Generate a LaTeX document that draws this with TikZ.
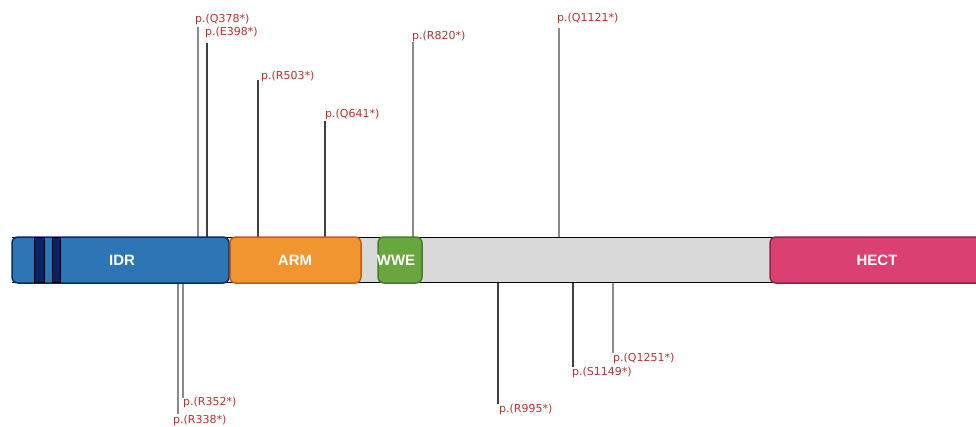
\documentclass[tikz,border=0pt]{standalone}
\usepackage{fontspec}
\setmainfont{Liberation Sans}
\newfontfamily\lblfont{DejaVu Sans}
\definecolor{idrblue}{HTML}{2E75B6}
\definecolor{idrborder}{HTML}{0B2A6B}
\definecolor{stripe}{HTML}{082460}
\definecolor{armorange}{HTML}{F0952F}
\definecolor{armborder}{HTML}{C85A1E}
\definecolor{wwegreen}{HTML}{6AA63E}
\definecolor{wweborder}{HTML}{4A7D2A}
\definecolor{hectpink}{HTML}{DB4170}
\definecolor{hectborder}{HTML}{8E2448}
\definecolor{bargray}{HTML}{D9D9D9}
\definecolor{lblred}{HTML}{B8322F}
\definecolor{stemgray}{HTML}{8A8A8A}
\tikzset{
  dombox/.style={rounded corners=6pt, line width=1.5pt},
  domlabel/.style={text=white, font=\bfseries\fontsize{15}{17}\selectfont},
  mutlabel/.style={text=lblred, font=\lblfont\fontsize{11}{12}\selectfont, inner sep=0pt},
  stem/.style={draw=stemgray, line width=1.1pt},
  darkstem/.style={draw=black!75, line width=1.1pt}
}
\begin{document}
\begin{tikzpicture}[x=1pt,y=-1pt]
\useasboundingbox (0,0) rectangle (976,426);
% stems above
\coordinate (q378t) at (198,27);   \coordinate (q378b) at (198,237);
\coordinate (e398t) at (207,43);   \coordinate (e398b) at (207,237);
\coordinate (r503t) at (258,80);   \coordinate (r503b) at (258,237);
\coordinate (q641t) at (325,121);  \coordinate (q641b) at (325,237);
\coordinate (r820t) at (413,42);   \coordinate (r820b) at (413,237);
\coordinate (q1121t) at (559,28);  \coordinate (q1121b) at (559,237);
% stems below
\coordinate (r352t) at (183,283);  \coordinate (r352b) at (183,398);
\coordinate (r338t) at (178,283);  \coordinate (r338b) at (178,414);
\coordinate (r995t) at (498,283);  \coordinate (r995b) at (498,404);
\coordinate (s1149t) at (573,283); \coordinate (s1149b) at (573,367);
\coordinate (q1251t) at (613,283); \coordinate (q1251b) at (613,353);
\draw[stem] (q378t) -- (q378b);
\draw[darkstem] (e398t) -- (e398b);
\draw[darkstem] (r503t) -- (r503b);
\draw[darkstem] (q641t) -- (q641b);
\draw[stem] (r820t) -- (r820b);
\draw[stem] (q1121t) -- (q1121b);
\draw[stem] (r352t) -- (r352b);
\draw[stem] (r338t) -- (r338b);
\draw[darkstem] (r995t) -- (r995b);
\draw[darkstem] (s1149t) -- (s1149b);
\draw[stem] (q1251t) -- (q1251b);
% labels
\node[mutlabel, anchor=base west] (lq378) at (195,22) {p.(Q378*)};
\node[mutlabel, anchor=base west] (le398) at (205,35) {p.(E398*)};
\node[mutlabel, anchor=base west] (lr503) at (261,79) {p.(R503*)};
\node[mutlabel, anchor=base west] (lq641) at (325,117) {p.(Q641*)};
\node[mutlabel, anchor=base west] (lr820) at (412,39) {p.(R820*)};
\node[mutlabel, anchor=base west] (lq1121) at (557,21) {p.(Q1121*)};
\node[mutlabel, anchor=base west] (lr352) at (183,405) {p.(R352*)};
\node[mutlabel, anchor=base west] (lr338) at (173,423) {p.(R338*)};
\node[mutlabel, anchor=base west] (lr995) at (499,412) {p.(R995*)};
\node[mutlabel, anchor=base west] (ls1149) at (572,375) {p.(S1149*)};
\node[mutlabel, anchor=base west] (lq1251) at (613,361) {p.(Q1251*)};
% backbone bar
\fill[bargray] (12,237.5) rectangle (980,282.5);
\draw[black, line width=1.3pt] (12,237.5) -- (980,237.5);
\draw[black, line width=1.3pt] (12,282.5) -- (980,282.5);
% domains
\draw[dombox, fill=idrblue, draw=idrborder] (12,237) rectangle (229,283);
\node[domlabel] (idr) at (122,260) {IDR};
\draw[fill=stripe, draw=black, line width=1pt] (34,237.5) rectangle (44,282.5);
\draw[fill=stripe, draw=black, line width=1pt] (52,237.5) rectangle (60,282.5);
\draw[dombox, fill=armorange, draw=armborder] (230,237) rectangle (361,283);
\node[domlabel] (arm) at (295,260) {ARM};
\draw[dombox, fill=wwegreen, draw=wweborder] (378,237) rectangle (422,283);
\node[domlabel] (wwe) at (396,260) {WWE};
\draw[dombox, fill=hectpink, draw=hectborder] (770,237) rectangle (990,283);
\node[domlabel] (hect) at (877,260) {HECT};
\end{tikzpicture}
\end{document}
